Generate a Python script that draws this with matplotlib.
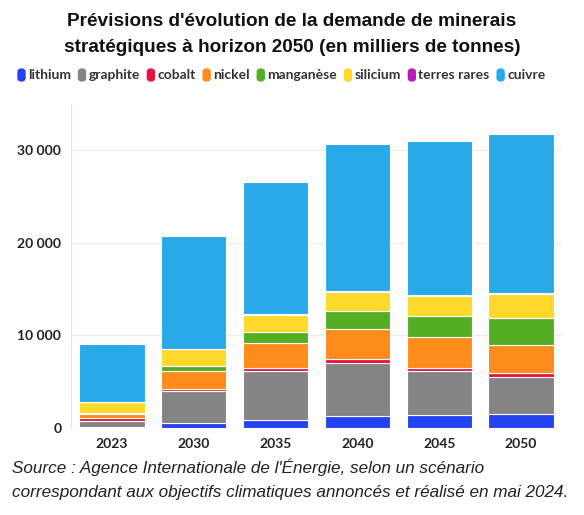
import numpy as np
import matplotlib.pyplot as plt
from matplotlib.patches import FancyBboxPatch
from matplotlib.ticker import FuncFormatter

annees = ["2023", "2030", "2035", "2040", "2045", "2050"]

# milliers de tonnes
lithium = [150, 500, 850, 1250, 1400, 1500]
graphite = [650, 3500, 5300, 5800, 4750, 4000]
cobalt = [250, 250, 300, 350, 300, 400]
nickel = [450, 1950, 2700, 3300, 3350, 3050]
manganese = [150, 550, 1200, 1950, 2300, 2950]
silicium = [1150, 1750, 1900, 2050, 2150, 2550]
terres_rares = [60, 80, 90, 100, 100, 100]
cuivre = [6240, 12120, 14260, 15900, 16650, 17250]

series = [
    ("lithium", lithium, "#2443f0"),
    ("graphite", graphite, "#848484"),
    ("cobalt", cobalt, "#ea1240"),
    ("nickel", nickel, "#fd8c1c"),
    ("manganèse", manganese, "#54ae24"),
    ("silicium", silicium, "#fdd92a"),
    ("terres rares", terres_rares, "#b41fb8"),
    ("cuivre", cuivre, "#2aa9e9"),
]

W, H = 584, 515
fig = plt.figure(figsize=(W / 100, H / 100), dpi=100)
ax = fig.add_axes([71 / W, 87 / H, 491 / W, 324 / H])

x = np.arange(len(annees))
bas = np.zeros(len(annees))
for nom, vals, coul in series:
    vals = np.array(vals, dtype=float)
    ax.bar(x, vals, 0.8, bottom=bas, color=coul, edgecolor="white", linewidth=0.8, zorder=2)
    bas += vals

ax.set_xlim(-0.5, 5.5)
ax.set_ylim(0, 35000)
ax.set_yticks([0, 10000, 20000, 30000])
ax.yaxis.set_major_formatter(FuncFormatter(lambda v, p: f"{int(v):,}".replace(",", " ")))
ax.set_xticks(x)
ax.set_xticklabels(annees)
for lab in ax.get_xticklabels() + ax.get_yticklabels():
    lab.set_fontweight("bold")
    lab.set_fontsize(10)
    lab.set_family("Lato")
    lab.set_color("#222222")
ax.tick_params(length=0, pad=7)
ax.grid(axis="y", color="#ececec", linewidth=0.8, zorder=0)
for s in ["top", "right", "bottom"]:
    ax.spines[s].set_visible(False)
ax.spines["left"].set_color("#e6e6e6")

titre = ["Prévisions d'évolution de la demande de minerais",
         "stratégiques à horizon 2050 (en milliers de tonnes)"]
for i, ligne in enumerate(titre):
    fig.text(0.5, (H - 22 - 25 * i) / H, ligne, ha="center", va="center", fontsize=13.7,
             fontweight="bold", family="Liberation Sans", color="#111111")

# legende manuelle
xpos = 18
ypx = 75
for nom, vals, coul in series:
    fig.patches.append(FancyBboxPatch((xpos / W, (H - ypx - 6) / H), 7 / W, 12 / H,
                                      boxstyle="round,pad=0,rounding_size=0.006",
                                      transform=fig.transFigure, color=coul))
    t = fig.text((xpos + 10) / W, (H - ypx) / H, nom, ha="left", va="center",
                 fontsize=10, fontweight="bold", family="Lato", color="#333333")
    fig.canvas.draw()
    bb = t.get_window_extent()
    xpos = bb.x1 + 7.5

source = ["Source : Agence Internationale de l'Énergie, selon un scénario",
          "correspondant aux objectifs climatiques annoncés et réalisé en mai 2024."]
for i, ligne in enumerate(source):
    fig.text(12 / W, (H - 467 - 25 * i) / H, ligne, ha="left", va="center", fontsize=12.3,
             style="italic", family="Liberation Sans", color="#222222")

fig.savefig("out.png", dpi=100)
